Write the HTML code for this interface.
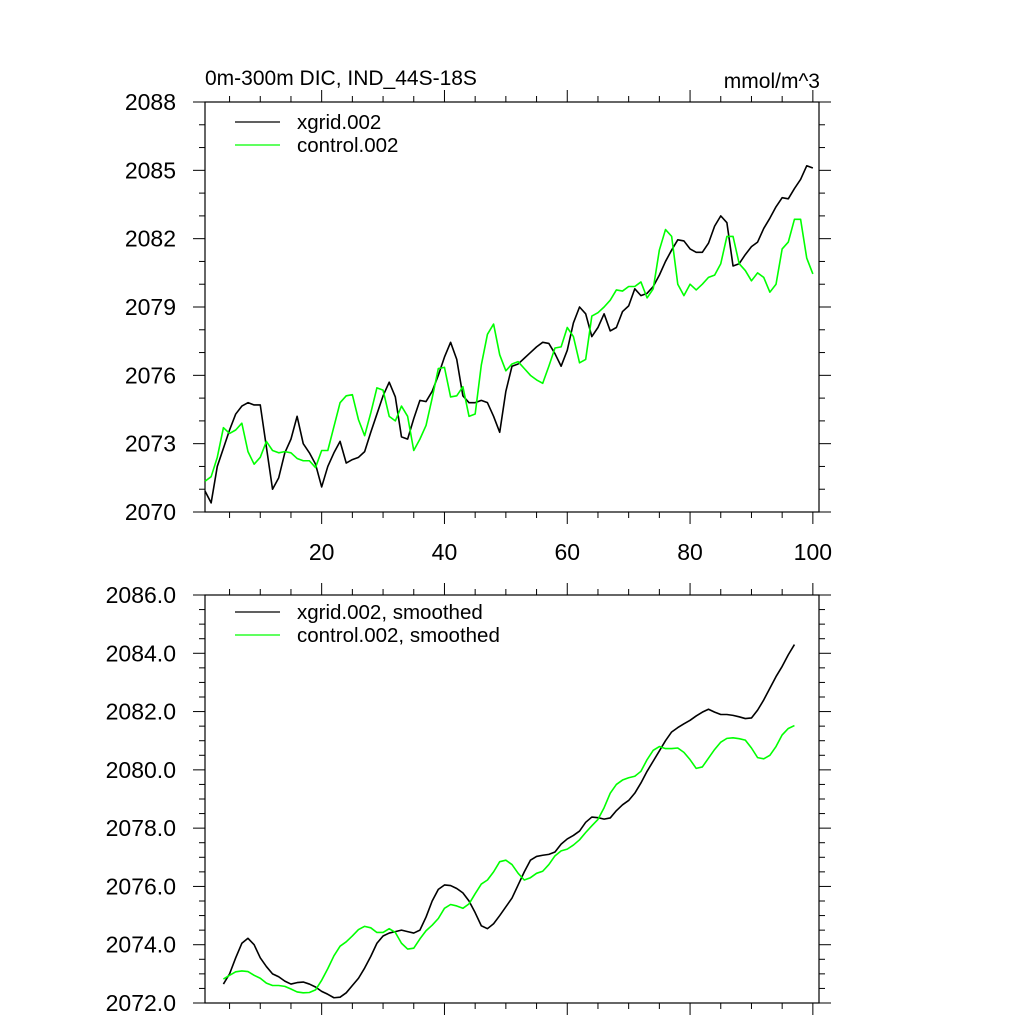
<!DOCTYPE html>
<html><head><meta charset="utf-8"><style>
html,body{margin:0;padding:0;background:#fff;}
svg{display:block;font-family:"Liberation Sans",sans-serif;}
</style></head><body>
<svg id="chart" width="1024" height="1024" viewBox="0 0 1024 1024" xmlns="http://www.w3.org/2000/svg">
<rect width="1024" height="1024" fill="#fff"/>
<text x="205" y="85" font-size="21">0m-300m DIC, IND_44S-18S</text>
<text x="820" y="88" font-size="21" text-anchor="end">mmol/m^3</text>
<g id="top"></g>
<g id="bot"></g>
</svg>
<script>
const xgridRaw = [2070.92,2070.4,2072.0,2072.8,2073.6,2074.3,2074.65,2074.8,2074.7,2074.7,2072.85,2071.0,2071.5,2072.6,2073.2,2074.2,2073.0,2072.6,2072.1,2071.1,2072.0,2072.6,2073.1,2072.15,2072.3,2072.4,2072.65,2073.5,2074.3,2075.1,2075.7,2075.05,2073.3,2073.2,2074.1,2074.9,2074.85,2075.3,2076.0,2076.8,2077.45,2076.7,2075.1,2074.8,2074.8,2074.9,2074.8,2074.2,2073.5,2075.3,2076.4,2076.5,2076.75,2077.0,2077.25,2077.45,2077.4,2076.95,2076.4,2077.1,2078.3,2079.0,2078.7,2077.7,2078.1,2078.7,2077.95,2078.1,2078.8,2079.05,2079.8,2079.5,2079.6,2079.9,2080.4,2081.0,2081.5,2081.95,2081.9,2081.55,2081.4,2081.4,2081.8,2082.55,2083.0,2082.7,2080.8,2080.9,2081.3,2081.65,2081.85,2082.45,2082.9,2083.4,2083.8,2083.75,2084.2,2084.6,2085.2,2085.1];
const controlRaw = [2071.35,2071.55,2072.4,2073.7,2073.45,2073.6,2073.9,2072.65,2072.1,2072.4,2073.1,2072.7,2072.6,2072.65,2072.6,2072.35,2072.25,2072.25,2071.95,2072.7,2072.7,2073.75,2074.8,2075.1,2075.15,2074.05,2073.35,2074.35,2075.45,2075.35,2074.2,2074.0,2074.65,2074.2,2072.7,2073.2,2073.8,2075.0,2076.3,2076.35,2075.05,2075.1,2075.5,2074.2,2074.3,2076.45,2077.8,2078.25,2076.9,2076.2,2076.5,2076.6,2076.3,2076.0,2075.8,2075.65,2076.4,2077.2,2077.25,2078.1,2077.7,2076.55,2076.7,2078.6,2078.75,2079.0,2079.3,2079.75,2079.7,2079.9,2079.9,2080.1,2079.4,2079.8,2081.5,2082.4,2082.1,2080.0,2079.5,2080.0,2079.75,2080.0,2080.3,2080.4,2080.9,2082.1,2082.1,2080.9,2080.6,2080.15,2080.5,2080.3,2079.65,2080.0,2081.55,2081.85,2082.85,2082.85,2081.15,2080.45];
const rawStart = 1;
const xgridSmooth = [2072.65,2073.0,2073.55,2074.05,2074.22,2074.0,2073.55,2073.25,2073.0,2072.9,2072.75,2072.65,2072.7,2072.72,2072.65,2072.55,2072.4,2072.3,2072.18,2072.2,2072.35,2072.6,2072.85,2073.2,2073.6,2074.05,2074.3,2074.4,2074.45,2074.5,2074.45,2074.4,2074.5,2074.95,2075.5,2075.9,2076.05,2076.03,2075.93,2075.78,2075.5,2075.1,2074.65,2074.55,2074.72,2075.0,2075.3,2075.6,2076.05,2076.5,2076.9,2077.03,2077.07,2077.1,2077.18,2077.45,2077.63,2077.75,2077.9,2078.2,2078.38,2078.36,2078.31,2078.35,2078.6,2078.8,2078.95,2079.2,2079.55,2079.95,2080.3,2080.65,2081.0,2081.3,2081.45,2081.58,2081.7,2081.85,2081.98,2082.08,2081.98,2081.9,2081.9,2081.87,2081.82,2081.76,2081.78,2082.05,2082.4,2082.8,2083.2,2083.55,2083.95,2084.3];
const controlSmooth = [2072.82,2072.95,2073.07,2073.1,2073.08,2072.95,2072.85,2072.68,2072.6,2072.6,2072.57,2072.48,2072.38,2072.35,2072.36,2072.45,2072.78,2073.18,2073.62,2073.95,2074.1,2074.3,2074.52,2074.63,2074.58,2074.42,2074.42,2074.55,2074.42,2074.05,2073.85,2073.88,2074.2,2074.48,2074.67,2074.9,2075.25,2075.38,2075.33,2075.25,2075.4,2075.75,2076.08,2076.22,2076.5,2076.85,2076.9,2076.75,2076.45,2076.22,2076.3,2076.45,2076.52,2076.75,2077.05,2077.22,2077.28,2077.42,2077.6,2077.85,2078.08,2078.3,2078.7,2079.2,2079.5,2079.65,2079.73,2079.78,2079.95,2080.35,2080.67,2080.8,2080.73,2080.73,2080.75,2080.6,2080.35,2080.05,2080.1,2080.4,2080.7,2080.95,2081.08,2081.1,2081.07,2081.02,2080.75,2080.42,2080.38,2080.5,2080.8,2081.2,2081.42,2081.52];
const smoothStart = 4;
const xTickLabels = [20,40,60,80,100];
const topYTicks = [2070,2073,2076,2079,2082,2085,2088];
const botYTicks = [2072.0,2074.0,2076.0,2078.0,2080.0,2082.0,2084.0,2086.0];
const topLegend = ["xgrid.002","control.002"];
const botLegend = ["xgrid.002, smoothed","control.002, smoothed"];

const NS="http://www.w3.org/2000/svg";
function mk(parent,tag,attrs){const e=document.createElementNS(NS,tag);for(const k in attrs)e.setAttribute(k,attrs[k]);parent.appendChild(e);return e;}
const L=205,R=819,XMIN=1,XMAX=101;
function xs(t){return L+(t-XMIN)/(XMAX-XMIN)*(R-L);}

function panel(g,T,B,ymin,ymax,yticks,minorStep,decimals,showXLabels,series,legend,legTop){
  const ys=v=>B-(v-ymin)/(ymax-ymin)*(B-T);
  const fr=mk(g,'rect',{x:L,y:T,width:R-L,height:B-T,fill:'none',stroke:'#000','stroke-width':1.2});
  
  
  for(let t=5;t<=100;t+=5){
    const x=xs(t),len=(t%20===0)?12:6;
    const a=mk(g,'line',{x1:x,x2:x,y1:B,y2:B+len,stroke:'#000','stroke-width':1});
    
    
    const b=mk(g,'line',{x1:x,x2:x,y1:T,y2:T-len,stroke:'#000','stroke-width':1});
    
    
  }
  if(showXLabels){
    xTickLabels.forEach(v=>{
      const tx=mk(g,'text',{x:xs(v),y:B+48,'font-size':23,'text-anchor':'middle'});
      tx.textContent=v;
      
      
    });
  }
  for(let v=ymin;v<=ymax+1e-9;v+=minorStep){
    const major=yticks.some(m=>Math.abs(m-v)<1e-6);
    const y=ys(v),len=major?12:6;
    const a=mk(g,'line',{x1:L-len,x2:L,y1:y,y2:y,stroke:'#000','stroke-width':1});
    
    
    const b=mk(g,'line',{x1:R,x2:R+len,y1:y,y2:y,stroke:'#000','stroke-width':1});
    
    
  }
  yticks.forEach(v=>{
    const tx=mk(g,'text',{x:176,y:ys(v)+8,'font-size':23,'text-anchor':'end'});
    tx.textContent=v.toFixed(decimals);
    
    
  });
  series.forEach((s,i)=>{
    const pts=s.data.map((v,k)=>xs(s.start+k).toFixed(2)+','+ys(v).toFixed(2)).join(' ');
    const pl=mk(g,'polyline',{points:pts,fill:'none',stroke:s.color,'stroke-width':1.6,'stroke-linejoin':'round'});
    
    
    const ly=legTop+i*23;
    const ll=mk(g,'line',{x1:235,x2:280,y1:ly,y2:ly,stroke:s.color,'stroke-width':1.3});
    
    
    const lt=mk(g,'text',{x:297,y:ly+7,'font-size':20.5});
    lt.textContent=legend[i];
    
    
  });
}
panel(document.getElementById('top'),102,512,2070,2088,topYTicks,1,0,true,
  [{data:xgridRaw,start:rawStart,color:'#000',name:'xgrid-line'},{data:controlRaw,start:rawStart,color:'#00ff00',name:'control-line'}],topLegend,122);
panel(document.getElementById('bot'),595,1003,2072,2086,botYTicks,0.5,1,false,
  [{data:xgridSmooth,start:smoothStart,color:'#000',name:'xgrid-smoothed-line'},{data:controlSmooth,start:smoothStart,color:'#00ff00',name:'control-smoothed-line'}],botLegend,612);
</script>
</body></html>
